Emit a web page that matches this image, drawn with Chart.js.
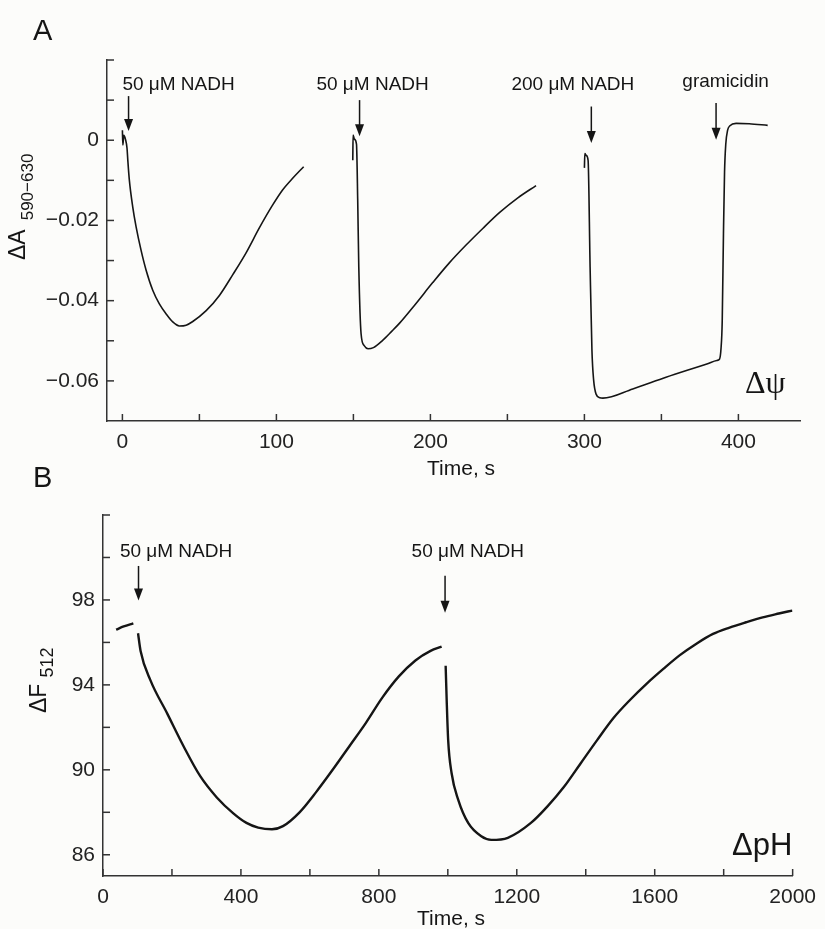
<!DOCTYPE html>
<html>
<head>
<meta charset="utf-8">
<script src="https://cdn.jsdelivr.net/npm/chart.js@4.4.0/dist/chart.umd.min.js"></script>
<style>
  body { margin: 0; background: #fcfcfa; }
  #wrap { position: relative; width: 825px; height: 929px; overflow: hidden; }
  canvas { position: absolute; left: 0; }
  #chartA { top: 0; }
  #chartB { top: 440px; }
</style>
</head>
<body>
<div id="wrap">
  <canvas id="chartA" width="825" height="485"></canvas>
  <canvas id="chartB" width="825" height="489"></canvas>
</div>
<script>
// ---- Panel A: delta psi, [time s, dA590-630]
const traceA1 = [[0,0.0025],[0.3,-0.0012],[0.9,0.0012],[2,0.0002],[3,-0.002],[3.5,-0.0049],[4.5,-0.0099],[6.7,-0.0166],
  [8.9,-0.0216],[12.1,-0.0274],[15.4,-0.0324],[19.7,-0.0374],[24,-0.0408],[28.4,-0.0433],[32.7,-0.0453],[37,-0.0463],
  [41.4,-0.0461],[45.7,-0.0452],[54.4,-0.0425],[63,-0.0387],[71.7,-0.0335],[80.4,-0.028],[89,-0.0218],[97,-0.0165],
  [104,-0.0124],[111,-0.0093],[117.7,-0.0066]];
const traceA2 = [[149.6,-0.005],[149.8,0.0013],[150.6,0.0003],[152,-0.001],[152.8,-0.015],[153.5,-0.0316],[155,-0.0483],
  [157,-0.0512],[159.5,-0.052],[163,-0.0517],[169,-0.0499],[175,-0.0476],[180,-0.0456],[190,-0.041],[201.5,-0.0355],
  [212,-0.0307],[223,-0.0262],[234,-0.022],[245,-0.018],[257,-0.0143],[268.6,-0.0113]];
const traceA3 = [[300,-0.0069],[300.3,-0.0033],[301.2,-0.0038],[302.4,-0.005],[303.7,-0.0316],[304.9,-0.0524],[306,-0.0598],
  [307.6,-0.0633],[310,-0.0642],[312,-0.0643],[331.4,-0.062],[353,-0.0591],[380,-0.0557],[386,-0.0549],[387.7,-0.0546],
  [388.7,-0.052],[389.5,-0.045],[390.3,-0.0233],[391,-0.008],[391.8,-0.001],[393,0.0025],[394.5,0.0036],[398.5,0.0042],
  [407,0.0041],[419,0.0037]];

const xTicksA = [0, 50, 100, 150, 200, 250, 300, 350, 400];
const xLabelsA = [0, 100, 200, 300, 400];
const yTicksA = [0.02, 0.01, 0, -0.01, -0.02, -0.03, -0.04, -0.05, -0.06];
const yLabelsA = [0, -0.02, -0.04, -0.06];

const noteTextA = ['50 μM NADH', '50 μM NADH', '200 μM NADH', 'gramicidin'];
const noteTimesA = [0, 126, 252.6, 363.6];
const noteLevelA = [0.0126, 0.0126, 0.0126, 0.0133];
const arrowTimesA = [4, 154, 304.5, 385.5];
const arrowTopA = [0.011, 0.010, 0.0084, 0.0093];
const arrowTipA = [0.0023, 0.001, -0.0007, 0.0001];

// ---- Panel B: delta pH, [time s, dF512]
const traceB1 = [[38,96.6],[60,96.75],[88,96.9]];
const traceB2 = [[101.6,96.43],[109,95.6],[138,94.2],[186,92.66],[234,91.1],[282,89.7],[330,88.7],[378,87.95],
  [416,87.5],[450,87.28],[490,87.2],[522,87.35],[570,88.0],[618,88.95],[666,90.0],[714,91.1],[762,92.2],[810,93.4],
  [858,94.4],[906,95.15],[950,95.6],[982,95.8]];
const traceB3 = [[993.7,94.9],[996.7,93.28],[1001,91.4],[1011,89.84],[1030,88.6],[1059,87.5],[1097,86.87],[1126,86.7],
  [1174,86.8],[1241,87.5],[1289,88.28],[1337,89.2],[1385,90.3],[1433,91.4],[1481,92.45],[1529,93.3],[1577,94.06],
  [1625,94.75],[1673,95.4],[1721,95.94],[1769,96.4],[1817,96.7],[1865,96.95],[1913,97.18],[1960,97.36],[1999,97.5]];

const xTicksB = [0, 200, 400, 600, 800, 1000, 1200, 1400, 1600, 1800, 2000];
const xLabelsB = [0, 400, 800, 1200, 1600, 2000];
const yTicksB = [86, 88, 90, 92, 94, 96, 98, 100, 102];
const yLabelsB = [86, 90, 94, 98];

const noteTextB = ['50 μM NADH', '50 μM NADH'];
const noteTimesB = [49, 895];
const noteLevelB = [100, 100];
const arrowTimesB = [103, 992];
const arrowTopB = [99.6, 99.14];
const arrowTipB = [97.97, 97.4];

const SANS = "'Liberation Sans', Arial, sans-serif";
const INK = '#151515';

function toDataset(pts, width) {
  return {
    data: pts.map(p => ({ x: p[0], y: p[1] })),
    borderColor: INK,
    borderWidth: width,
    pointRadius: 0,
    fill: false,
    cubicInterpolationMode: 'monotone'
  };
}

// inward pointing tick marks on left and bottom axes
const innerTicks = {
  id: 'innerTicks',
  afterDraw(chart) {
    const ctx = chart.ctx, area = chart.chartArea;
    ctx.save();
    ctx.strokeStyle = '#333';
    ctx.lineWidth = 1.5;
    chart.scales.x.ticks.forEach(t => {
      const px = chart.scales.x.getPixelForValue(t.value);
      ctx.beginPath(); ctx.moveTo(px, area.bottom); ctx.lineTo(px, area.bottom - 7); ctx.stroke();
    });
    chart.scales.y.ticks.forEach(t => {
      const py = chart.scales.y.getPixelForValue(t.value);
      ctx.beginPath(); ctx.moveTo(area.left, py); ctx.lineTo(area.left + 7, py); ctx.stroke();
    });
    ctx.restore();
  }
};

// arrows with the additions
const notes = {
  id: 'notes',
  afterDatasetsDraw(chart, args, opts) {
    const ctx = chart.ctx, xs = chart.scales.x, ys = chart.scales.y;
    ctx.save();
    ctx.fillStyle = INK;
    ctx.strokeStyle = INK;
    ctx.lineWidth = 1.5;
    ctx.font = '19px ' + SANS;
    ctx.textAlign = 'left';
    ctx.textBaseline = 'alphabetic';
    opts.text.forEach((s, i) => {
      ctx.fillText(s, xs.getPixelForValue(opts.textX[i]), ys.getPixelForValue(opts.textY[i]));
    });
    opts.arrowX.forEach((t, i) => {
      const x = xs.getPixelForValue(t);
      const y0 = ys.getPixelForValue(opts.arrowTop[i]);
      const y1 = ys.getPixelForValue(opts.arrowTip[i]);
      ctx.beginPath(); ctx.moveTo(x, y0); ctx.lineTo(x, y1 - 10); ctx.stroke();
      ctx.beginPath(); ctx.moveTo(x - 4.5, y1 - 12); ctx.lineTo(x + 4.5, y1 - 12); ctx.lineTo(x, y1); ctx.closePath(); ctx.fill();
    });
    ctx.restore();
  }
};

// panel letter, axis titles, big symbol
const labels = {
  id: 'labels',
  afterDraw(chart, args, o) {
    const ctx = chart.ctx;
    ctx.save();
    ctx.fillStyle = INK;
    ctx.textBaseline = 'alphabetic';
    ctx.textAlign = 'left';
    ctx.font = '29px ' + SANS;
    ctx.fillText(o.letter, 33, o.letterY);
    ctx.font = '21px ' + SANS;
    ctx.fillText('Time, s', o.timeX, o.timeY);
    ctx.font = o.symbolFont;
    ctx.fillText(o.symbol, o.symbolX, o.symbolY);
    // rotated y title with subscript
    ctx.translate(o.yBase, o.yStart);
    ctx.rotate(-Math.PI / 2);
    ctx.font = '23px ' + SANS;
    ctx.fillText(o.yMain, 0, 0);
    const w = ctx.measureText(o.yMain).width;
    ctx.font = o.ySubFont;
    ctx.fillText(o.ySub, w + o.yGap, o.ySubDrop);
    ctx.restore();
  }
};

function axisX(min, max, ticks, shown) {
  return {
    type: 'linear', min: min, max: max,
    afterBuildTicks: s => { s.ticks = ticks.map(v => ({ value: v })); },
    afterFit: s => { s.height = 30; },
    grid: { drawOnChartArea: false, drawTicks: false },
    border: { color: '#333', width: 1.5 },
    ticks: { autoSkip: false, maxRotation: 0, padding: 9, color: '#222', font: { family: SANS, size: 21 },
      callback: v => shown.includes(v) ? String(v) : '' }
  };
}

function axisY(min, max, ticks, shown, width, fmt) {
  return {
    min: min, max: max,
    afterBuildTicks: s => { s.ticks = ticks.map(v => ({ value: v })); },
    afterFit: s => { s.width = width; },
    grid: { drawOnChartArea: false, drawTicks: false },
    border: { color: '#333', width: 1.5 },
    ticks: { autoSkip: false, padding: 8, color: '#222', font: { family: SANS, size: 21 },
      callback: v => shown.includes(v) ? fmt(v) : '' }
  };
}

new Chart(document.getElementById('chartA'), {
  type: 'line',
  data: { datasets: [traceA1, traceA2, traceA3].map(p => toDataset(p, 1.6)) },
  options: {
    responsive: false, animation: false, events: [],
    layout: { padding: { left: 0, top: 60, right: 25, bottom: 34 } },
    plugins: {
      legend: { display: false }, tooltip: { enabled: false },
      notes: { text: noteTextA, textX: noteTimesA, textY: noteLevelA, arrowX: arrowTimesA, arrowTop: arrowTopA, arrowTip: arrowTipA },
      labels: { letter: 'A', letterY: 40, timeX: 427, timeY: 475,
        symbol: 'Δψ', symbolFont: "32px 'Liberation Serif', 'Times New Roman', serif", symbolX: 745, symbolY: 393,
        yBase: 25, yStart: 260, yMain: 'ΔA', ySub: '590−630', ySubFont: '17px ' + SANS, yGap: 9, ySubDrop: 8 }
    },
    scales: {
      x: axisX(-10, 440, xTicksA, xLabelsA),
      y: axisY(-0.07, 0.02, yTicksA, yLabelsA, 107, v => v === 0 ? '0' : v.toFixed(2).replace('-', '−'))
    }
  },
  plugins: [innerTicks, notes, labels]
});

new Chart(document.getElementById('chartB'), {
  type: 'line',
  data: { datasets: [traceB1, traceB2, traceB3].map(p => toDataset(p, 2.4)) },
  options: {
    responsive: false, animation: false, events: [],
    layout: { padding: { left: 0, top: 75, right: 28, bottom: 23 } },
    plugins: {
      legend: { display: false }, tooltip: { enabled: false },
      notes: { text: noteTextB, textX: noteTimesB, textY: noteLevelB, arrowX: arrowTimesB, arrowTop: arrowTopB, arrowTip: arrowTipB },
      labels: { letter: 'B', letterY: 47, timeX: 417, timeY: 485,
        symbol: 'ΔpH', symbolFont: '31px ' + SANS, symbolX: 732, symbolY: 415,
        yBase: 46, yStart: 273, yMain: 'ΔF', ySub: '512', ySubFont: '18px ' + SANS, yGap: 6, ySubDrop: 7 }
    },
    scales: {
      x: axisX(0, 2000, xTicksB, xLabelsB),
      y: axisY(85, 102, yTicksB, yLabelsB, 103, v => String(v))
    }
  },
  plugins: [innerTicks, notes, labels]
});
</script>
</body>
</html>
